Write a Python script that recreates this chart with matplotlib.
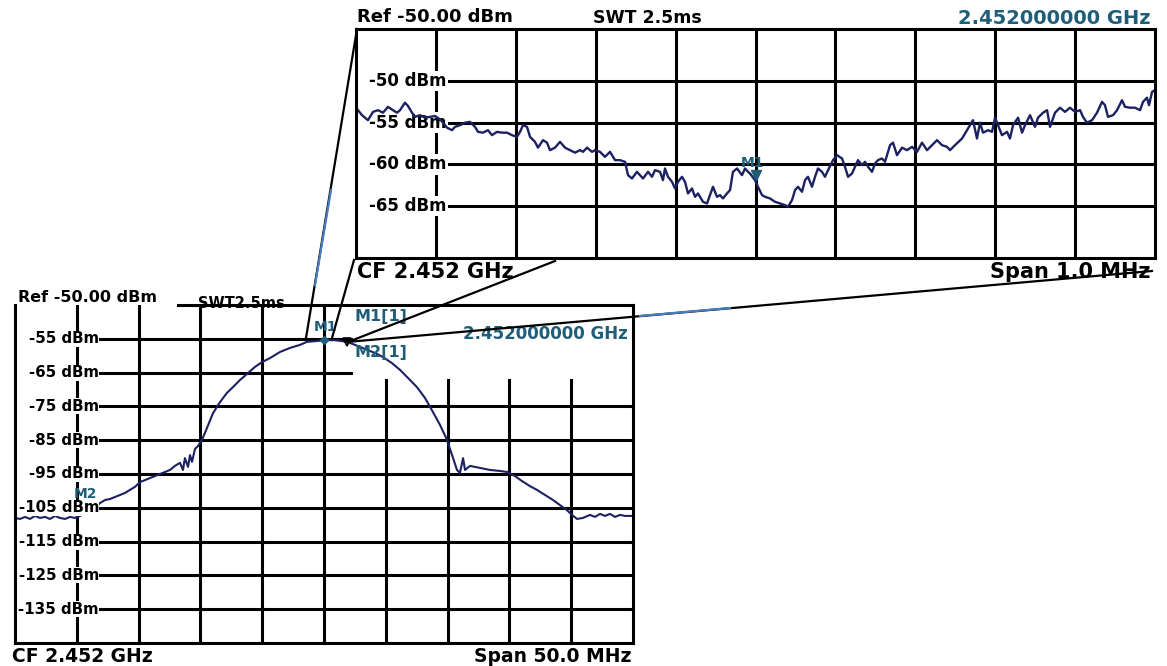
import matplotlib
matplotlib.use('Agg')
import matplotlib.pyplot as plt
from matplotlib import transforms
from matplotlib.lines import Line2D

plt.rcParams['font.family'] = ['DejaVu Sans']
plt.rcParams['font.weight'] = 'bold'

'''
频谱仪截图重绘：下方为 50 MHz 扫宽，上方为中心 1 MHz 的放大图
'''

# 主图：相对 2.452 GHz 的频偏 (MHz) 与电平 (dBm)
main_freq_mhz = [-25.0, -24.6, -24.19, -23.79, -23.38, -22.98, -22.57, -22.17, -21.76, -21.36,
                 -20.95, -20.55, -20.15, -19.74, -18.93, -18.37, -18.12, -17.72, -17.31, -16.91,
                 -16.5, -16.1, -15.7, -15.29, -14.89, -14.48, -14.08, -13.67, -13.27, -12.86,
                 -12.46, -12.06, -11.65, -11.41, -11.25, -11.0, -10.84, -10.68, -10.44, -10.19,
                 -9.87, -9.47, -8.98, -8.41, -7.85, -7.2, -6.8, -6.23, -5.58, -5.02,
                 -4.37, -3.56, -2.75, -1.94, -1.38, -0.73, 0.16, 0.89, 1.86, 2.51,
                 3.32, 4.13, 4.77, 5.5, 6.15, 6.8, 7.52, 8.17, 8.82, 9.39,
                 9.95, 10.36, 10.76, 11.0, 11.25, 11.41, 11.81, 12.62, 13.43, 14.24,
                 14.81, 15.45, 16.02, 16.67, 17.23, 17.88, 18.53, 19.09, 19.66, 20.06,
                 20.47, 20.95, 21.52, 21.93, 22.33, 22.73, 23.14, 23.54, 23.95, 24.35,
                 25.0]
main_level_dbm = [-108.0, -108.3, -107.7, -108.3, -107.4, -108.0, -107.7, -108.3, -107.4, -108.0,
                  -108.3, -107.7, -108.0, -107.4, -105.7, -104.5, -103.6, -102.7, -102.4, -101.8,
                  -101.2, -100.6, -99.7, -98.8, -97.4, -96.8, -96.2, -95.6, -95.0, -94.4,
                  -93.8, -92.6, -91.7, -93.8, -90.3, -92.9, -89.4, -91.4, -87.6, -86.7,
                  -84.9, -81.4, -77.0, -73.7, -71.0, -68.7, -67.2, -65.4, -63.3, -61.9,
                  -60.7, -58.9, -57.7, -56.8, -55.9, -55.7, -55.4, -55.4, -55.9, -56.8,
                  -58.0, -59.2, -60.4, -62.2, -64.2, -66.6, -69.3, -72.5, -76.7, -80.5,
                  -84.9, -89.4, -93.8, -94.7, -90.3, -93.8, -92.6, -93.2, -93.8, -94.1,
                  -94.4, -95.6, -97.1, -98.6, -99.7, -101.2, -102.7, -104.2, -105.7, -107.1,
                  -108.3, -108.0, -107.1, -107.7, -106.8, -107.4, -106.8, -107.7, -107.1, -107.4,
                  -107.4]
main_grid_dbm = [-55, -65, -75, -85, -95, -105, -115, -125, -135]
main_labels = ['-55 dBm', '-65 dBm', '-75 dBm', '-85 dBm', '-95 dBm',
               '-105 dBm', '-115 dBm', '-125 dBm', '-135 dBm']
main_grid_mhz = [-20, -15, -10, -5, 0, 5, 10, 15, 20]
m1_main = (0.0, -55.5)
m2_main = (1.86, -55.9)

# 放大图：频偏 (kHz) 与电平 (dBm)
zoom_freq_khz = [-500.0, -492.5, -485.0, -478.7, -472.5, -466.2, -460.0, -453.7, -448.7, -444.9,
                 -438.7, -434.9, -429.9, -426.2, -419.9, -413.6, -407.4, -401.1, -394.9, -391.1,
                 -386.1, -379.8, -376.1, -369.8, -363.6, -357.3, -351.1, -347.3, -341.1, -334.8,
                 -329.8, -323.5, -317.3, -311.0, -304.8, -298.5, -294.7, -291.0, -286.0, -282.2,
                 -276.0, -272.2, -266.0, -260.9, -257.2, -250.9, -244.7, -238.4, -232.2, -225.9,
                 -219.6, -215.9, -210.9, -204.6, -200.9, -194.6, -188.4, -182.1, -175.8, -169.6,
                 -163.3, -159.6, -154.6, -148.3, -144.6, -140.8, -134.5, -129.5, -125.8, -119.5,
                 -115.8, -113.3, -109.5, -104.5, -100.7, -97.0, -92.0, -88.2, -84.5, -79.5,
                 -75.7, -72.0, -65.7, -60.7, -56.9, -53.2, -48.2, -44.4, -40.7, -35.7,
                 -31.9, -28.2, -23.1, -16.9, -13.1, -9.4, -6.9, -0.6, 3.1, 8.2,
                 11.9, 18.2, 24.4, 30.7, 36.9, 40.7, 45.7, 49.5, 53.2, 58.2,
                 62.0, 65.7, 70.7, 74.5, 78.2, 83.2, 87.0, 90.8, 97.0, 102.0,
                 108.3, 112.0, 115.8, 120.8, 124.6, 128.3, 133.3, 137.1, 140.8, 145.8,
                 149.6, 153.3, 158.3, 162.1, 168.4, 172.1, 177.1, 183.4, 189.6, 195.9,
                 202.2, 208.4, 214.7, 220.9, 227.2, 233.4, 239.7, 243.5, 249.7, 258.5,
                 266.0, 272.2, 277.2, 281.0, 284.8, 291.0, 296.0, 299.8, 303.5, 308.5,
                 314.8, 318.5, 322.3, 328.6, 333.6, 337.3, 343.6, 349.8, 353.6, 359.9,
                 364.9, 368.6, 374.9, 381.1, 387.4, 393.6, 399.9, 406.2, 409.9, 414.9,
                 421.2, 427.4, 433.7, 437.4, 441.2, 447.5, 452.5, 458.7, 462.5, 468.7,
                 475.0, 481.3, 485.0, 490.0, 492.5, 496.3, 500.0]
zoom_level_dbm = [-53.2, -54.1, -54.7, -53.7, -53.5, -53.8, -53.1, -53.5, -53.8, -53.5,
                  -52.6, -53.0, -53.8, -54.3, -54.1, -54.4, -54.3, -54.2, -54.6, -55.0,
                  -55.6, -55.9, -55.5, -55.3, -55.0, -54.9, -55.5, -56.1, -56.2, -55.9,
                  -56.5, -56.1, -56.2, -56.2, -56.5, -56.7, -56.1, -55.3, -55.5, -56.7,
                  -57.3, -58.0, -57.1, -57.4, -58.3, -58.0, -57.3, -58.0, -58.3, -58.6,
                  -58.3, -58.5, -58.0, -58.5, -58.3, -58.5, -59.1, -58.5, -59.5, -59.5,
                  -59.7, -61.3, -61.7, -60.9, -61.3, -61.7, -60.9, -61.5, -60.7, -60.9,
                  -61.9, -60.5, -61.5, -62.1, -62.9, -62.1, -61.5, -62.1, -63.5, -62.9,
                  -63.9, -63.5, -64.5, -64.7, -63.7, -62.7, -63.9, -63.7, -64.1, -63.5,
                  -63.1, -60.9, -60.5, -61.3, -60.5, -60.9, -61.1, -61.9, -62.7, -63.7,
                  -63.9, -64.1, -64.5, -64.7, -64.9, -65.1, -64.3, -63.1, -62.7, -63.3,
                  -61.9, -61.5, -62.7, -61.5, -60.5, -60.9, -61.5, -60.7, -59.5, -58.9,
                  -59.3, -60.3, -61.5, -61.1, -60.3, -59.5, -60.1, -59.7, -60.3, -60.9,
                  -59.9, -59.5, -59.3, -59.7, -57.7, -57.4, -58.9, -58.0, -58.3, -57.9,
                  -58.5, -57.4, -58.3, -57.7, -57.1, -57.7, -57.9, -58.3, -57.7, -56.9,
                  -55.7, -54.7, -56.9, -55.0, -56.2, -55.9, -56.1, -54.4, -55.3, -56.5,
                  -56.1, -56.9, -55.3, -54.4, -56.2, -55.3, -54.1, -55.5, -54.4, -53.8,
                  -53.5, -55.5, -53.8, -53.2, -53.7, -53.2, -53.7, -53.5, -54.3, -55.0,
                  -54.7, -53.8, -52.5, -52.9, -54.3, -54.1, -53.5, -52.3, -53.1, -53.2,
                  -53.2, -53.5, -52.5, -52.0, -52.9, -51.3, -51.1]
zoom_grid_dbm = [-50, -55, -60, -65]
zoom_labels = ['-50 dBm', '-55 dBm', '-60 dBm', '-65 dBm']
zoom_grid_khz = [-400, -300, -200, -100, 0, 100, 200, 300, 400]
m1_zoom = (0.0, -61.3)

NAVY = '#1b2161'
TEAL = '#1f5e78'
W, H = 1167, 666
LW = 2.2

fig = plt.figure(figsize=(W / 100, H / 100), dpi=100)


def box(l, t, r, b):
    return [l / W, 1 - b / H, (r - l) / W, (b - t) / H]


def put(x, y, s, size, ha='left', color='black', **kw):
    # 按像素位置放文字
    return fig.text(x / W, 1 - y / H, s, fontsize=size, ha=ha, va='center',
                    color=color, fontweight='bold', **kw)


ax = fig.add_axes(box(15, 305, 633, 643))
axz = fig.add_axes(box(356, 29, 1155, 258))

# ---------------- 主图 ----------------
ax.set_xlim(-25, 25)
ax.set_ylim(-145, -45)
ax.set_xticks([])
ax.set_yticks([])
for s in ax.spines.values():
    s.set_linewidth(LW)
    s.set_zorder(6)
ax.spines['top'].set_visible(False)
ax.axhline(-45, xmin=0.264, color='k', lw=LW, clip_on=False, zorder=6)

for v in main_grid_mhz:
    ymax = 0.778 if v > 0 else 1.0
    ax.axvline(v, ymax=ymax, color='k', lw=LW, zorder=1)
for y in main_grid_dbm:
    xmax = 0.544 if y >= -65 else 1.0
    ax.axhline(y, xmin=0.1375, xmax=xmax, color='k', lw=LW, zorder=1)

trans = transforms.blended_transform_factory(ax.transAxes, ax.transData)
for y, lab in zip(main_grid_dbm, main_labels):
    ax.text(0.136, y, lab, transform=trans, ha='right', va='center', fontsize=10.8,
            fontweight='bold', zorder=5,
            bbox=dict(facecolor='white', edgecolor='none', pad=0.3))

ax.plot(main_freq_mhz, main_level_dbm, color=NAVY, lw=1.5, zorder=4)
ax.plot(*m1_main, marker='D', ms=4, color=TEAL, zorder=5)
ax.plot(*m2_main, marker='v', ms=6, mfc='none', mec='k', mew=1.2, zorder=5)

ax.text(198 / W, 1 - 303 / H, 'SWT2.5ms', transform=fig.transFigure, fontsize=10.5,
        fontweight='bold', va='center', zorder=2, clip_on=False)
put(18, 298, 'Ref -50.00 dBm', 11.5)
put(355, 317, 'M1[1]', 11.5, color=TEAL)
put(628, 334, '2.452000000 GHz', 12, ha='right', color=TEAL)
put(355, 353, 'M2[1]', 11.5, color=TEAL)
put(314, 327, 'M1', 10, color=TEAL)
put(97, 494, 'M2', 10, ha='right', color=TEAL)
put(12, 657, 'CF 2.452 GHz', 13.5)
put(632, 657, 'Span 50.0 MHz', 13.5, ha='right')

# ---------------- 放大图 ----------------
axz.set_xlim(-500, 500)
axz.set_ylim(-71.25, -43.75)
axz.set_xticks([])
axz.set_yticks([])
for s in axz.spines.values():
    s.set_linewidth(LW)
    s.set_zorder(6)

for v in zoom_grid_khz:
    axz.axvline(v, color='k', lw=LW, zorder=1)
for y in zoom_grid_dbm:
    axz.axhline(y, xmin=0.114, color='k', lw=LW, zorder=1)

transz = transforms.blended_transform_factory(axz.transAxes, axz.transData)
for y, lab in zip(zoom_grid_dbm, zoom_labels):
    axz.text(0.113, y, lab, transform=transz, ha='right', va='center', fontsize=12,
             fontweight='bold', zorder=3,
             bbox=dict(facecolor='white', edgecolor='none', pad=1.0))

axz.plot(zoom_freq_khz, zoom_level_dbm, color=NAVY, lw=1.7, zorder=4)
axz.plot(*m1_zoom, marker='v', ms=7, color=TEAL, zorder=5)
put(741, 163, 'M1', 10, color=TEAL)

put(357, 17, 'Ref -50.00 dBm', 13)
put(647, 18, 'SWT 2.5ms', 12.5, ha='center')
put(1150, 18, '2.452000000 GHz', 14, ha='right', color=TEAL)
put(357, 272, 'CF 2.452 GHz', 15)
put(1150, 272, 'Span 1.0 MHz', 15, ha='right')

# ---------------- 放大连接线 ----------------
links = [((357, 29), (306, 338)), ((354, 260), (332, 338)),
         ((555, 261), (348, 342)), ((1152, 271), (347, 342))]
for (x0, y0), (x1, y1) in links:
    fig.add_artist(Line2D([x0 / W, x1 / W], [1 - y0 / H, 1 - y1 / H],
                          transform=fig.transFigure, color='k', lw=1.6, zorder=6))
# 连接线上偏蓝的一段
for (x0, y0), (x1, y1) in [((331, 190), (315, 285)), ((640, 316), (730, 308))]:
    fig.add_artist(Line2D([x0 / W, x1 / W], [1 - y0 / H, 1 - y1 / H],
                          transform=fig.transFigure, color='#4a7cc0', lw=1.6, zorder=7))

fig.savefig('out.png', dpi=100)
